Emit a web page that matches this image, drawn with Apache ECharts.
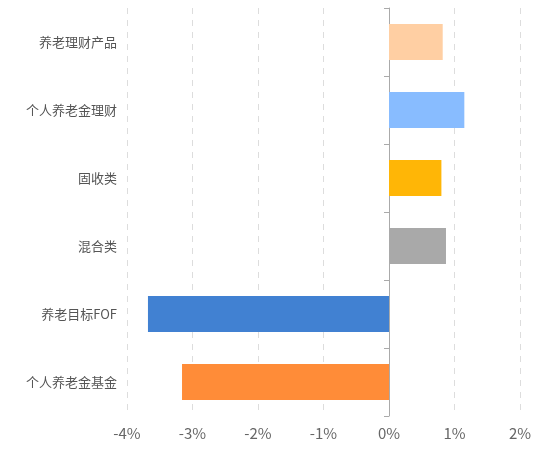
<!DOCTYPE html>
<html><head><meta charset="utf-8"><script src="https://cdn.jsdelivr.net/npm/echarts@6/dist/echarts.min.js"></script>
<style>html,body{margin:0;padding:0;background:#fff}#c{width:554px;height:456px}</style></head>
<body><div id="c"></div><script>
const categories = ['个人养老金基金','养老目标FOF','混合类','固收类','个人养老金理财','养老理财产品'];
const values = [-3.16, -3.68, 0.87, 0.80, 1.15, 0.82];
const colors = ['#FF8C38','#4181D2','#A9A9A9','#FFB606','#88BCFF','#FFCFA3'];
const chart = echarts.init(document.getElementById('c'));
chart.setOption({
  grid:{left:127,right:34,top:8,bottom:40,containLabel:false,outerBoundsMode:'none'},
  xAxis:{type:'value',min:-4,max:2,interval:1,
    axisLabel:{formatter:v=>v+'%',color:'#666',fontSize:15,margin:10,fontFamily:'Noto Sans CJK SC'},
    axisLine:{show:false},axisTick:{show:false},
    splitLine:{show:true,lineStyle:{type:[6,6],color:'#ddd'}}},
  yAxis:[{type:'category',data:categories,position:'left',
    axisLine:{show:false,onZero:false},axisTick:{show:false},
    axisLabel:{color:'#555',fontSize:13,margin:10,fontFamily:'Noto Sans CJK SC'}},
   {type:'category',data:categories,position:'left',
    axisLine:{show:true,onZero:true,lineStyle:{color:'#aaa'}},
    axisTick:{show:true,lineStyle:{color:'#aaa'}},
    axisLabel:{show:false}}],
  series:[{type:'bar',barWidth:'53%',yAxisIndex:0,
    data:values.map((v,i)=>({value:v,itemStyle:{color:colors[i]}}))}]
});
</script></body></html>
